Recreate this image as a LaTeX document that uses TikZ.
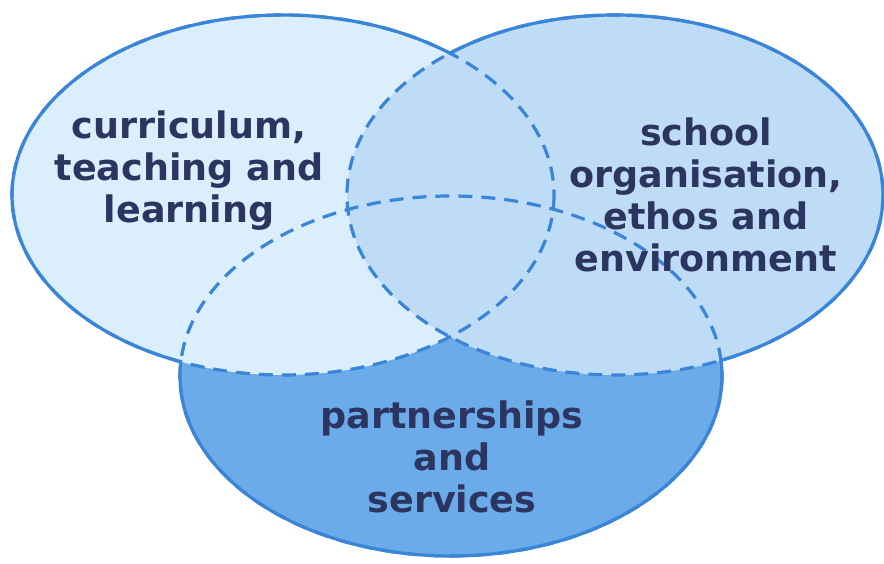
\documentclass[tikz,border=0pt]{standalone}
\usepackage{fontspec}
\setmainfont{DejaVu Sans}
\definecolor{rim}{HTML}{3A85D8}
\definecolor{navy}{HTML}{2B3560}
\definecolor{pale}{HTML}{DAEEFB}
\definecolor{mid}{HTML}{BEDCF6}
\definecolor{deep}{HTML}{6BABE9}
\begin{document}
\begin{tikzpicture}[x=1pt,y=-1pt, every node/.style={font=\bfseries\fontsize{36.5}{42}\selectfont}]
  \tikzstyle{lbl}=[align=center,text=navy,inner sep=0pt]
  \tikzstyle{rim}=[draw=rim,line width=3.2pt]
  \tikzstyle{hid}=[rim,dash pattern=on 14pt off 9pt]
  \def\curr{(283,195) ellipse [x radius=271, y radius=180]}
  \def\ethos{(615,195) ellipse [x radius=268, y radius=180]}
  \def\partn{(451,376) ellipse [x radius=271, y radius=180]}
  \def\page{(-10,-10) rectangle (900,580)}
  \useasboundingbox (0,0) rectangle (884,564);
  \fill[white] (0,0) rectangle (884,564);
  % fills, the front circles cover the back one
  \fill[deep] \partn;
  \fill[pale] \curr;
  \fill[mid] \ethos;
  % hidden arcs dashed
  \draw[hid] \curr \ethos \partn;
  % outer arcs solid
  \begin{scope}[even odd rule]
    \clip \page \ethos;
    \clip \page \partn;
    \draw[rim] \curr;
  \end{scope}
  \begin{scope}[even odd rule]
    \clip \page \curr;
    \clip \page \partn;
    \draw[rim] \ethos;
  \end{scope}
  \begin{scope}[even odd rule]
    \clip \page \curr;
    \clip \page \ethos;
    \draw[rim] \partn;
  \end{scope}
  \node[lbl] (ctl) at (189,171) {curriculum,\\teaching and\\learning};
  \node[lbl] (soe) at (706,195) {school\\organisation,\\ethos and\\environment};
  \node[lbl] (ps) at (452,457) {partnerships\\and\\services};
\end{tikzpicture}
\end{document}
